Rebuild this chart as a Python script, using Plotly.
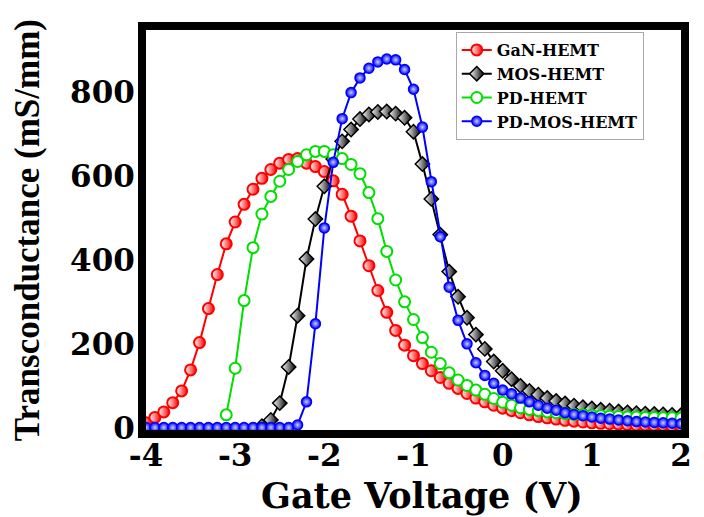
import numpy as np
import plotly.graph_objects as go

# Gate-voltage sweeps (V), 0.1 V steps
V_GAN = np.round(np.arange(-4.0, 2.001, 0.1), 1)
V_MOS = np.round(np.arange(-2.7, 2.001, 0.1), 1)
V_PD = np.round(np.arange(-3.1, 2.001, 0.1), 1)
V_PDMOS = np.round(np.arange(-4.0, 2.001, 0.1), 1)

# Transconductance (mS/mm)
GM_GAN = [12, 25, 38, 60, 88, 138, 203, 284, 365, 438,
          490, 532, 568, 594, 615, 630, 639, 641, 630, 622,
          610, 588, 556, 504, 445, 386, 327, 275, 232, 197,
          172, 153, 136, 120, 106, 94, 82, 71, 62, 54,
          47, 41, 36, 31, 27, 24, 21, 18, 16, 14,
          12, 11, 10, 9, 8, 7, 7, 6, 6, 5, 5]
GM_MOS = [4, 19, 59, 145, 267, 402, 497, 575, 640, 682,
          710, 735, 746, 752, 753, 748, 738, 705, 628, 545,
          460, 372, 312, 262, 222, 188, 158,
          136, 116, 100, 88, 79, 71, 64, 58, 53, 49,
          46, 43, 41, 39, 37, 35, 34, 33, 32, 31, 30]
GM_PD = [31, 142, 303, 429, 509, 551, 587, 615, 634, 650,
         658, 658, 650, 641, 627, 605, 560, 498, 420, 352,
         300, 258, 215, 180, 153, 131, 114, 101, 90, 80, 70,
         61, 54, 48, 44, 41, 38, 36, 34, 32, 31,
         30, 29, 28, 27, 26, 26, 25, 25, 24, 24, 23]
GM_PDMOS = [1, 1, 1, 1, 1, 1, 1, 1, 1, 1,
            1, 1, 1, 1, 1, 1, 1,
            7, 62, 248, 476, 632, 736, 798, 833, 856, 871,
            878, 876, 853, 806, 716, 586, 455, 335, 256, 200,
            155, 125, 106,
            90, 81, 71, 62, 54, 47, 42, 36, 32, 29,
            26, 23, 21, 19, 17, 15, 14, 13, 12, 11, 10]

NAMES = ["GaN-HEMT", "MOS-HEMT", "PD-HEMT", "PD-MOS-HEMT"]
X_TICKS = [-4, -3, -2, -1, 0, 1, 2]
X_LABELS = ["-4", "-3", "-2", "-1", "0", "1", "2"]
Y_TICKS = [0, 200, 400, 600, 800]
Y_LABELS = ["0", "200", "400", "600", "800"]

SERIF_WIDE = "DejaVu Serif"
SERIF = "Liberation Serif, Times New Roman, serif"

fig = go.Figure()

fig.add_trace(go.Scatter(
    x=V_GAN, y=GM_GAN, name=NAMES[0], mode="lines+markers",
    line=dict(color="#ff0000", width=2),
    marker=dict(symbol="circle", size=11, color="white",
                gradient=dict(type="horizontal", color="#ff0000"),
                line=dict(color="#ff0000", width=2)),
    cliponaxis=False))

fig.add_trace(go.Scatter(
    x=V_MOS, y=GM_MOS, name=NAMES[1], mode="lines+markers",
    line=dict(color="#000000", width=2),
    marker=dict(symbol="diamond", size=11, color="white",
                gradient=dict(type="horizontal", color="#000000"),
                line=dict(color="#000000", width=1.5)),
    cliponaxis=False))

fig.add_trace(go.Scatter(
    x=V_PD, y=GM_PD, name=NAMES[2], mode="lines+markers",
    line=dict(color="#00e000", width=2),
    marker=dict(symbol="circle", size=11, color="white",
                line=dict(color="#00e000", width=2)),
    cliponaxis=False))

fig.add_trace(go.Scatter(
    x=V_PDMOS, y=GM_PDMOS, name=NAMES[3], mode="lines+markers",
    line=dict(color="#0000ff", width=2),
    marker=dict(symbol="circle", size=10, color="#0000ff",
                gradient=dict(type="radial", color="#c8d0ff"),
                line=dict(color="#0000ff", width=1.5)),
    cliponaxis=False))

axis_common = dict(
    showline=True, linecolor="black", linewidth=8, mirror=True,
    showgrid=False, zeroline=False, ticks="",
    tickfont=dict(family=SERIF_WIDE, size=31, color="black", weight="bold"),
)

fig.update_xaxes(range=[-4, 2], tickvals=X_TICKS, ticktext=X_LABELS,
                 ticklabelstandoff=-9, **axis_common)
fig.update_yaxes(range=[-5, 947], tickvals=Y_TICKS, ticktext=Y_LABELS,
                 ticklabelstandoff=-3, **axis_common)

fig.add_annotation(
    text="Gate Voltage (V)", xref="paper", yref="paper",
    x=0.515, y=-0.163, xanchor="center", yanchor="middle", showarrow=False,
    font=dict(family=SERIF_WIDE, size=35, color="black", weight="bold"))
fig.add_annotation(
    text="Transconductance (mS/mm)", xref="paper", yref="paper",
    x=-0.222, y=0.5, xanchor="center", yanchor="middle", showarrow=False,
    textangle=-90,
    font=dict(family=SERIF, size=35, color="black", weight="bold"))

fig.update_layout(
    width=704, height=517,
    margin=dict(l=146, r=12, t=30, b=87),
    paper_bgcolor="white", plot_bgcolor="white",
    showlegend=True,
    legend=dict(
        x=0.579, y=0.995, xanchor="left", yanchor="top",
        bgcolor="white", bordercolor="#aaaaaa", borderwidth=1,
        font=dict(family=SERIF_WIDE, size=16, color="black", weight="bold"),
        itemwidth=30, tracegroupgap=0,
    ),
)

fig.write_html("out.html")
